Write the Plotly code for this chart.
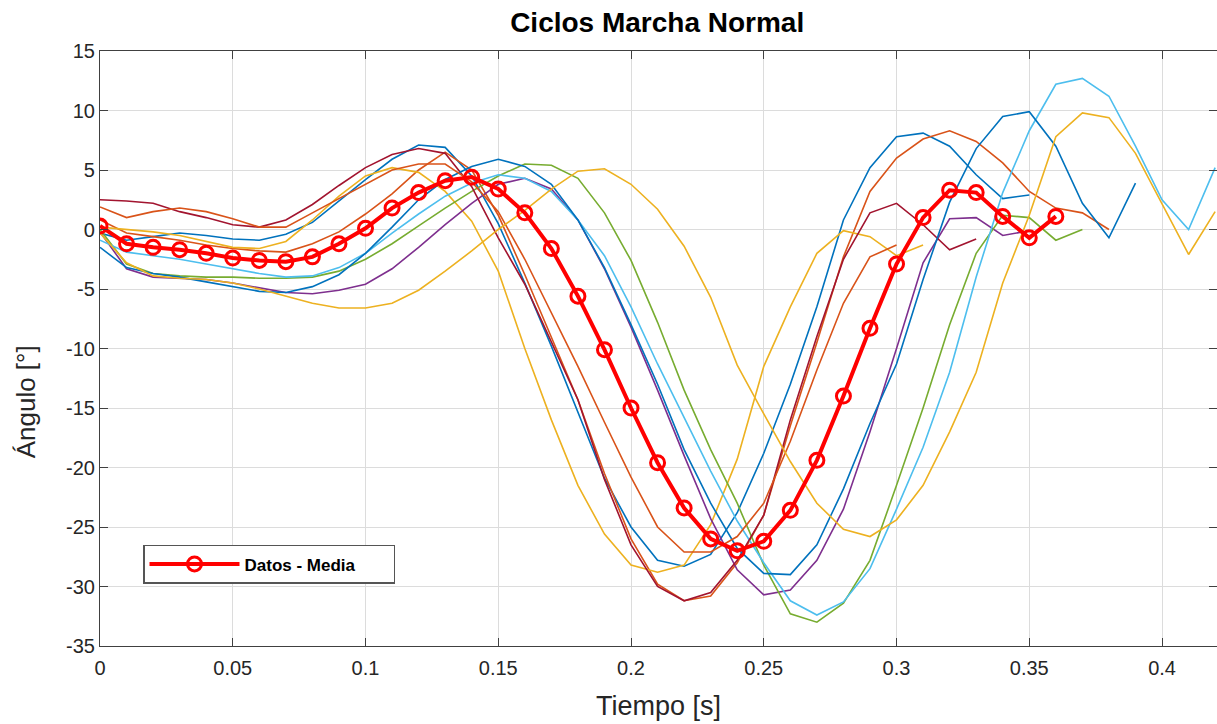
import plotly.graph_objects as go

tiempo = [round(i * 0.01, 2) for i in range(43)]

azul_1 = [-0.3, -0.9, -0.6, -0.3, -0.5, -0.8, -0.9, -0.4, 0.6, 2.4, 4.2, 5.9, 7.1, 6.9, 4.5, 0.5,
          -4.5, -9.8, -15.3, -20.9, -25.0, -27.8, -28.3, -27.3, -23.8, -18.8, -13.0, -6.5, 0.8,
          5.2, 7.8, 8.1, 7.0, 4.6, 2.6, 2.9]
naranja_1 = [0.8, -0.3, -0.6, -0.9, -1.3, -1.6, -1.8, -1.9, -1.2, -0.2, 1.3, 3.0, 5.0, 6.5, 5.0, 1.2,
             -3.8, -9.0, -14.3, -20.5, -26.0, -29.8, -31.2, -30.8, -28.0, -24.0, -16.5, -9.5, -2.3,
             3.2, 6.0, 7.6, 8.3, 7.4, 5.6, 3.2, 1.8, 1.4, 0.0]
amarillo_1 = [0.2, 0.0, -0.2, -0.5, -1.0, -1.5, -1.6, -1.0, 0.8, 2.8, 4.5, 5.2, 4.8, 3.2, 0.7, -3.5,
              -10.0, -16.0, -21.5, -25.6, -28.2, -28.8, -28.2, -24.8, -19.3, -11.5, -6.5, -2.0,
              -0.1, -0.6, -2.2, -1.3]
morado = [-0.2, -3.3, -4.0, -4.1, -4.2, -4.5, -4.9, -5.3, -5.4, -5.1, -4.6, -3.3, -1.5, 0.4, 2.2, 3.8,
          4.3, 3.4, 0.8, -3.3, -8.2, -13.5, -19.0, -24.3, -28.6, -30.7, -30.3, -27.8, -23.5, -17.0,
          -10.0, -2.8, 0.9, 1.0, -0.5, -0.1]
verde = [0.0, -2.9, -3.7, -3.9, -4.0, -4.0, -4.1, -4.1, -4.0, -3.5, -2.5, -1.2, 0.3, 1.8, 3.2, 4.5,
         5.5, 5.4, 4.3, 1.4, -2.6, -7.8, -13.5, -18.5, -23.0, -28.2, -32.3, -33.0, -31.4, -27.8,
         -21.5, -15.0, -8.0, -2.0, 1.2, 1.0, -0.9, 0.0]
celeste = [-0.9, -1.9, -2.2, -2.5, -2.9, -3.3, -3.7, -4.0, -3.9, -3.2, -2.0, -0.3, 1.3, 2.8, 3.9, 4.6,
           4.3, 3.2, 0.8, -2.2, -6.5, -11.3, -15.8, -20.3, -24.5, -28.0, -31.2, -32.4, -31.3, -28.5,
           -23.5, -18.3, -12.0, -4.0, 3.1, 8.3, 12.2, 12.7, 11.2, 7.0, 2.5, 0.0, 5.2]
granate = [2.5, 2.4, 2.2, 1.5, 1.0, 0.4, 0.2, 0.8, 2.1, 3.7, 5.2, 6.3, 6.8, 6.4, 3.6, -0.7,
           -4.6, -9.4, -14.3, -21.0, -26.5, -30.0, -31.2, -30.5, -27.8, -24.0, -16.0, -9.0, -2.5,
           1.4, 2.2, 0.4, -1.7, -0.8]
azul_2 = [-1.5, -3.2, -3.7, -4.0, -4.4, -4.8, -5.2, -5.3, -4.8, -3.8, -2.0, 0.2, 2.5, 4.2, 5.3, 5.9,
          5.3, 3.8, 0.8, -3.2, -8.0, -13.0, -18.5, -23.0, -26.8, -28.9, -29.0, -26.5, -21.8, -16.3,
          -11.3, -4.2, 2.3, 6.8, 9.5, 9.9, 7.0, 2.2, -0.7, 3.9]
naranja_2 = [1.9, 1.0, 1.5, 1.8, 1.5, 0.9, 0.2, 0.2, 1.4, 2.6, 3.8, 5.0, 5.5, 5.5, 4.0, 1.5,
             -2.5, -7.0, -11.5, -16.2, -20.8, -25.0, -27.1, -27.1, -25.8, -23.0, -17.8, -11.8,
             -6.2, -2.3, -1.3]
amarillo_2 = [-0.3, -2.8, -3.9, -4.1, -4.2, -4.5, -5.0, -5.6, -6.2, -6.6, -6.6, -6.2, -5.1, -3.5,
              -1.8, 0.0, 1.6, 3.4, 4.9, 5.1, 3.8, 1.7, -1.4, -5.7, -11.4, -15.5, -19.5, -23.0,
              -25.2, -25.8, -24.4, -21.5, -17.0, -12.0, -4.5, 1.2, 7.8, 9.8, 9.4, 6.4, 2.2, -2.1, 1.5]

media = [0.3, -1.2, -1.5, -1.7, -2.0, -2.4, -2.6, -2.7, -2.3, -1.2, 0.1, 1.8, 3.1, 4.1, 4.4, 3.4,
         1.4, -1.6, -5.6, -10.1, -15.0, -19.6, -23.4, -26.0, -27.0, -26.2, -23.6, -19.4, -14.0,
         -8.3, -2.9, 1.0, 3.3, 3.1, 1.1, -0.7, 1.1]

ciclos = [azul_1, naranja_1, amarillo_1, morado, verde, celeste, granate, azul_2, naranja_2, amarillo_2]
colores = ["#0072BD", "#D95319", "#EDB120", "#7E2F8E", "#77AC30", "#4DBEEE", "#A2142F",
           "#0072BD", "#D95319", "#EDB120"]

x_ticks = [0, 0.05, 0.1, 0.15, 0.2, 0.25, 0.3, 0.35, 0.4]
x_labels = ["0", "0.05", "0.1", "0.15", "0.2", "0.25", "0.3", "0.35", "0.4"]
y_ticks = [-35, -30, -25, -20, -15, -10, -5, 0, 5, 10, 15]
y_labels = ["-35", "-30", "-25", "-20", "-15", "-10", "-5", "0", "5", "10", "15"]

fig = go.Figure()
for serie, color in zip(ciclos, colores):
    fig.add_trace(go.Scatter(x=tiempo[:len(serie)], y=serie, mode="lines",
                             line=dict(color=color, width=1.6), showlegend=False,
                             hoverinfo="skip"))

fig.add_trace(go.Scatter(x=tiempo[:len(media)], y=media, mode="lines+markers",
                         name="<b>Datos - Media</b>       ",
                         line=dict(color="#FF0000", width=4),
                         marker=dict(symbol="circle-open", size=14, color="#FF0000",
                                     line=dict(width=3, color="#FF0000"))))

font_fam = "Liberation Sans, Arial, sans-serif"
axis_common = dict(showline=True, linecolor="#404040", linewidth=1.2, mirror="ticks",
                   ticks="inside", ticklen=8, tickcolor="#404040", showgrid=True,
                   gridcolor="#dcdcdc", gridwidth=1, zeroline=False,
                   tickfont=dict(family=font_fam, size=20, color="#262626"))

fig.update_layout(
    width=1217, height=724,
    margin=dict(l=100, r=0, t=51, b=78),
    paper_bgcolor="white", plot_bgcolor="white",
    title=dict(text="<b>Ciclos Marcha Normal</b>", x=0.54, xanchor="center", y=0.97,
               yanchor="middle", font=dict(family=font_fam, size=28, color="#000000")),
    xaxis=dict(range=[0, 0.4207], tickvals=x_ticks, ticktext=x_labels, ticklabelstandoff=4,
               title=dict(text="Tiempo [s]", font=dict(family=font_fam, size=27, color="#262626"),
                          standoff=18), **axis_common),
    yaxis=dict(range=[-35, 15], tickvals=y_ticks, ticktext=y_labels, **axis_common),
    legend=dict(x=0.0385, y=0.17, xanchor="left", yanchor="top", bgcolor="white",
                bordercolor="#555555", borderwidth=1.5,
                font=dict(family=font_fam, size=17, color="#000000"), itemwidth=90),
    annotations=[dict(text="Ángulo [°]", textangle=-90, xref="paper", yref="paper",
                      x=-0.066, y=0.41, xanchor="center", yanchor="middle", showarrow=False,
                      font=dict(family=font_fam, size=26, color="#262626"))],
)

fig.write_html("out.html")
